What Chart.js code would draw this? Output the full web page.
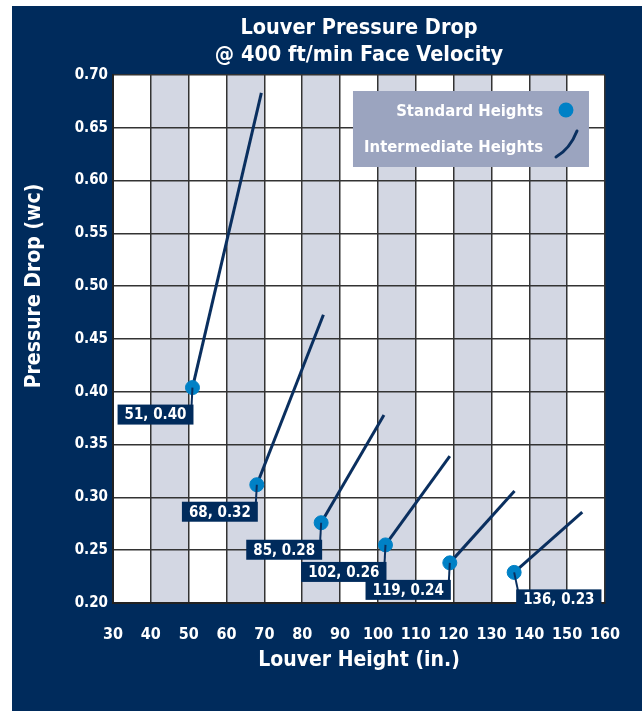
<!DOCTYPE html>
<html>
<head>
<meta charset="utf-8">
<title>Louver Pressure Drop</title>
<script src="https://cdn.jsdelivr.net/npm/chart.js@4.4.1/dist/chart.umd.min.js"></script>
<style>
  html, body { margin: 0; padding: 0; background: #ffffff; }
  #wrap { position: relative; width: 642px; height: 711px; }
</style>
</head>
<body>
<div id="wrap"><canvas id="louverChart"></canvas></div>
<script>
// Data
const standardHeights = [51, 68, 85, 102, 119, 136];
const standardDrops = [0.404, 0.312, 0.276, 0.255, 0.238, 0.229];
const pointLabels = ['51, 0.40', '68, 0.32', '85, 0.28', '102, 0.26', '119, 0.24', '136, 0.23'];
const intermediateEndHeights = [69.2, 85.6, 101.6, 119.0, 136.1, 154.0];
const intermediateEndDrops = [0.683, 0.473, 0.378, 0.339, 0.306, 0.286];
const xTicks = [30, 40, 50, 60, 70, 80, 90, 100, 110, 120, 130, 140, 150, 160];
const yTicks = [0.20, 0.25, 0.30, 0.35, 0.40, 0.45, 0.50, 0.55, 0.60, 0.65, 0.70];

const NAVY = '#002b5c';
const LINE_NAVY = '#0a2f5f';
const DOT_BLUE = '#0081c6';
const BAND = '#d3d7e3';
const FONT = "'DejaVu Sans Condensed', 'Liberation Sans Narrow', 'DejaVu Sans', sans-serif";

Chart.defaults.font.family = FONT;
Chart.defaults.font.weight = 'bold';
Chart.defaults.color = '#ffffff';

// one short line dataset per standard height
const lineSets = standardHeights.map((h, i) => ({
  label: i === 0 ? 'Intermediate Heights' : '',
  type: 'line',
  data: [
    { x: h, y: standardDrops[i] },
    { x: intermediateEndHeights[i], y: intermediateEndDrops[i] }
  ],
  borderColor: LINE_NAVY,
  borderWidth: 3,
  pointRadius: 0,
  fill: false,
  order: 2
}));

const pointSet = {
  label: 'Standard Heights',
  type: 'scatter',
  data: standardHeights.map((h, i) => ({ x: h, y: standardDrops[i] })),
  backgroundColor: DOT_BLUE,
  borderColor: DOT_BLUE,
  pointRadius: 7,
  pointHoverRadius: 7,
  order: 1
};

const backdrop = {
  id: 'backdrop',
  beforeDraw(chart) {
    const { ctx, chartArea: a, scales: { x } } = chart;
    ctx.save();
    ctx.fillStyle = NAVY;
    ctx.fillRect(12, 6, chart.width - 12, chart.height - 6);
    ctx.fillStyle = '#ffffff';
    ctx.fillRect(a.left, a.top, a.right - a.left, a.bottom - a.top);
    // alternate shaded columns, starting at 40
    ctx.fillStyle = BAND;
    for (let i = 1; i < xTicks.length - 1; i += 2) {
      const x0 = x.getPixelForValue(xTicks[i]);
      const x1 = x.getPixelForValue(xTicks[i + 1]);
      ctx.fillRect(x0, a.top, x1 - x0, a.bottom - a.top);
    }
    ctx.restore();
  }
};

const decorations = {
  id: 'decorations',
  afterDatasetsDraw(chart) {
    const { ctx, scales: { x, y } } = chart;
    ctx.save();
    ctx.font = 'bold 15px ' + FONT;
    ctx.textBaseline = 'middle';
    pointLabels.forEach((txt, i) => {
      const px = x.getPixelForValue(standardHeights[i]);
      const py = y.getPixelForValue(standardDrops[i]);
      const w = ctx.measureText(txt).width + 14;
      const h = 20;
      const last = i === pointLabels.length - 1;
      const bx = last ? px + 2 : px + 1 - w;
      const by = py + 17;
      // leader line
      ctx.strokeStyle = LINE_NAVY;
      ctx.lineWidth = 2;
      ctx.beginPath();
      ctx.moveTo(px, py);
      ctx.lineTo(last ? bx + 2 : bx + w - 2, by + 2);
      ctx.stroke();
      ctx.fillStyle = NAVY;
      ctx.fillRect(bx, by, w, h);
      ctx.fillStyle = '#ffffff';
      ctx.textAlign = 'left';
      ctx.fillText(txt, bx + 7, by + h / 2 + 1);
    });
    ctx.restore();
  },
  afterDraw(chart) {
    const { ctx, chartArea: a } = chart;
    const cx = (a.left + a.right) / 2;
    ctx.save();
    ctx.fillStyle = '#ffffff';
    ctx.textAlign = 'center';
    ctx.textBaseline = 'middle';
    ctx.font = 'bold 21.5px ' + FONT;
    ctx.fillText('Louver Pressure Drop', cx, 28);
    ctx.fillText('@ 400 ft/min Face Velocity', cx, 55);
    ctx.font = 'bold 21px ' + FONT;
    ctx.fillText('Louver Height (in.)', cx, 661);
    ctx.save();
    ctx.translate(35, 286);
    ctx.rotate(-Math.PI / 2);
    ctx.fillText('Pressure Drop (wc)', 0, 0);
    ctx.restore();

    // legend box
    const lx = a.right - 252, ly = a.top + 16, lw = 236, lh = 76;
    ctx.fillStyle = '#9ba4bf';
    ctx.fillRect(lx, ly, lw, lh);
    ctx.font = 'bold 16.5px ' + FONT;
    ctx.textAlign = 'right';
    ctx.fillStyle = '#ffffff';
    ctx.fillText(pointSet.label, lx + 190, ly + 21);
    ctx.fillText(lineSets[0].label, lx + 190, ly + 57);
    ctx.fillStyle = DOT_BLUE;
    ctx.beginPath();
    ctx.arc(lx + 213, ly + 19, 7.5, 0, Math.PI * 2);
    ctx.fill();
    ctx.strokeStyle = LINE_NAVY;
    ctx.lineWidth = 3;
    ctx.lineCap = 'round';
    ctx.beginPath();
    ctx.moveTo(lx + 203, ly + 66);
    ctx.quadraticCurveTo(lx + 217, ly + 58, lx + 224, ly + 40);
    ctx.stroke();
    ctx.restore();
  }
};

const ctx = document.getElementById('louverChart').getContext('2d');
new Chart(ctx, {
  data: { datasets: [...lineSets, pointSet] },
  options: {
    responsive: true,
    maintainAspectRatio: false,
    animation: false,
    layout: { padding: { left: 0, right: 37, top: 75, bottom: 0 } },
    plugins: {
      legend: { display: false },
      title: { display: false },
      tooltip: { enabled: false }
    },
    scales: {
      x: {
        type: 'linear',
        min: xTicks[0],
        max: xTicks[xTicks.length - 1],
        afterBuildTicks(axis) { axis.ticks = xTicks.map(v => ({ value: v })); },
        afterFit(axis) { axis.height = 108; },
        grid: { color: '#333333', lineWidth: 1.5, drawTicks: false },
        border: { display: true, color: '#222222', width: 2 },
        ticks: { color: '#ffffff', font: { size: 16, weight: 'bold' }, padding: 22, maxRotation: 0, autoSkip: false }
      },
      y: {
        type: 'linear',
        min: yTicks[0],
        max: yTicks[yTicks.length - 1],
        afterBuildTicks(axis) { axis.ticks = yTicks.map(v => ({ value: v })); },
        afterFit(axis) { axis.width = 113; },
        grid: { color: '#333333', lineWidth: 1.5, drawTicks: false },
        border: { display: true, color: '#222222', width: 2 },
        ticks: {
          color: '#ffffff',
          font: { size: 15, weight: 'bold' },
          padding: 5,
          autoSkip: false,
          callback: v => Number(v).toFixed(2)
        }
      }
    }
  },
  plugins: [backdrop, decorations]
});
</script>
</body>
</html>
